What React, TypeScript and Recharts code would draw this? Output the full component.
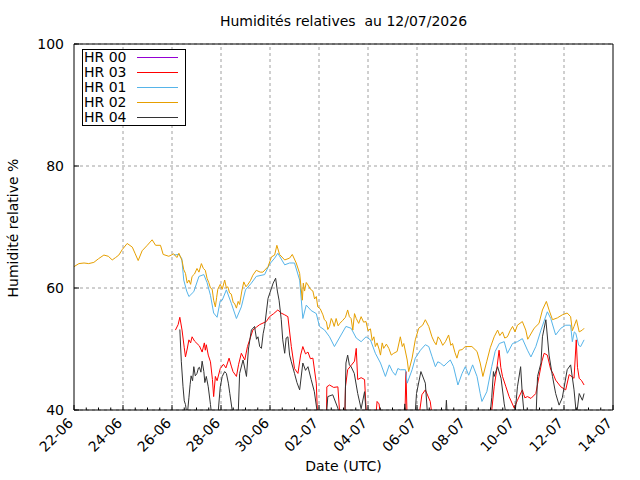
import { LineChart, Line, XAxis, YAxis, CartesianGrid, ReferenceLine, Legend } from "recharts";

const FONT = "'DejaVu Sans', sans-serif";

// x = days since 22-06 00:00 UTC
const xTickDays = [0, 2, 4, 6, 8, 10, 12, 14, 16, 18, 20, 22];
const xTickLabels = ["22-06", "24-06", "26-06", "28-06", "30-06", "02-07", "04-07", "06-07", "08-07", "10-07", "12-07", "14-07"];
const yTicks = [40, 60, 80, 100];

const hr00: [number, number][] = [];

const hr03: [number, number][] = [
  [4.14, 53.1], [4.25, 54.0], [4.32, 55.2], [4.41, 53.1], [4.5, 50.2], [4.55, 48.7], [4.62, 50.0], [4.69, 51.5], [4.76, 51.0], [4.82, 52.0],
  [4.92, 51.3], [5.02, 50.9], [5.12, 50.5], [5.23, 49.5], [5.32, 51.0], [5.36, 49.8], [5.4, 50.7], [5.48, 49.0], [5.57, 47.9], [5.65, 45.0], [5.7, 42.2],
  [5.77, 45.5], [5.84, 44.8], [5.97, 46.8], [6.1, 47.5], [6.2, 46.9], [6.33, 48.5], [6.42, 47.2], [6.49, 46.3], [6.63, 45.5], [6.72, 47.5], [6.83, 49.3], [6.97, 48.2],
  [7.08, 50.4], [7.17, 51.5], [7.3, 53.1], [7.45, 53.6], [7.58, 54.0], [7.85, 54.5], [7.98, 55.3], [8.15, 55.8], [8.32, 56.4], [8.45, 55.9], [8.6, 55.6], [8.73, 55.3],
  [8.87, 50.4], [9.0, 46.8], [9.14, 46.0], [9.25, 49.0], [9.34, 50.4], [9.45, 49.2], [9.55, 49.5], [9.65, 48.4], [9.75, 48.5], [9.89, 44.4], [9.95, 38],
  [10.3, 38], [10.32, 43.8], [10.43, 44.1], [10.6, 43.7], [10.77, 43.8], [10.87, 38], [11.05, 38], [11.08, 43.8], [11.17, 46.6],
  [11.31, 47.3], [11.45, 48.0], [11.52, 50.1], [11.58, 45.0], [11.72, 45.3], [11.86, 45.0], [11.95, 38], [12.3, 38], [12.37, 41.4],
  [12.45, 41.0], [12.55, 38], [13.5, 38], [13.55, 46.3], [13.6, 38], [14.05, 38], [14.2, 42.5], [14.34, 43.3],
  [14.54, 41.4], [14.65, 38], [17.0, 38], [17.15, 43.8], [17.25, 46.5], [17.35, 49.8], [17.42, 47.0], [17.49, 45.5], [17.63, 43.8],
  [17.76, 42.2], [17.97, 40.3], [18.1, 41.6], [18.3, 43.3], [18.4, 42.0], [18.51, 42.2], [18.65, 41.9], [18.85, 42.7], [18.98, 45.5],
  [19.1, 48.0], [19.19, 49.3], [19.32, 49.0], [19.46, 46.6], [19.55, 46.0], [19.66, 44.9], [19.87, 43.8], [20.07, 43.3], [20.21, 45.8], [20.41, 45.2],
  [20.5, 51.5], [20.55, 47.0], [20.62, 45.2], [20.72, 44.8], [20.82, 44.1],
];

const hr01: [number, number][] = [
  [4.07, 65.4], [4.28, 65.5], [4.4, 64.8], [4.48, 61.3], [4.6, 59.5], [4.69, 58.6], [4.89, 59.4], [5.1, 61.9],
  [5.3, 62.2], [5.43, 60.9], [5.57, 58.8], [5.7, 55.9], [5.84, 55.2], [5.97, 57.9], [6.05, 58.0], [6.22, 59.7],
  [6.42, 57.5], [6.63, 55.0], [6.83, 56.9], [7.0, 59.7], [7.24, 60.8], [7.44, 61.9], [7.78, 62.2], [7.98, 63.9],
  [8.19, 64.9], [8.32, 65.7], [8.6, 63.8], [8.8, 64.1], [9.0, 64.1], [9.21, 61.3], [9.34, 55.0], [9.48, 57.2],
  [9.68, 56.3], [9.89, 55.8], [10.02, 53.7], [10.23, 53.1], [10.43, 52.0], [10.63, 50.4], [10.9, 52.3], [11.1, 53.7],
  [11.31, 53.4], [11.52, 51.8], [11.72, 51.2], [11.92, 52.0], [12.1, 51.5], [12.3, 49.3], [12.51, 47.7], [12.71, 45.5],
  [12.87, 47.4], [13.0, 46.3], [13.12, 45.7], [13.22, 46.8], [13.32, 46.6], [13.53, 46.6], [13.6, 44.4], [13.8, 46.6], [13.93, 48.5], [14.14, 49.8],
  [14.34, 50.7], [14.48, 50.4], [14.61, 48.8], [14.75, 47.1], [14.85, 47.9], [14.95, 47.7], [15.1, 47.2], [15.22, 47.7], [15.36, 48.2], [15.49, 47.1],
  [15.67, 44.1], [15.84, 46.0], [15.97, 47.1], [16.11, 45.7], [16.27, 47.4], [16.45, 45.5], [16.58, 42.7], [16.65, 41.4],
  [16.85, 43.0], [17.05, 47.1], [17.19, 49.6], [17.36, 50.9], [17.56, 51.2], [17.69, 49.3], [17.9, 50.9], [18.1, 51.2],
  [18.3, 51.7], [18.51, 49.8], [18.65, 48.7], [18.85, 50.4], [19.06, 53.1], [19.32, 56.1], [19.46, 55.0], [19.66, 52.3],
  [19.87, 53.4], [20.07, 53.9], [20.27, 53.9], [20.34, 51.2], [20.42, 52.8], [20.48, 52.6], [20.6, 50.6], [20.68, 50.4], [20.82, 51.5],
];

const hr02: [number, number][] = [
  [0, 63.5], [0.2, 64.0], [0.41, 64.1], [0.6, 64.0], [0.81, 64.2], [1.0, 64.8], [1.22, 65.4], [1.4, 65.2],
  [1.56, 64.6], [1.7, 65.0], [1.83, 65.4], [1.97, 66.3], [2.17, 67.3], [2.38, 66.7], [2.5, 65.6], [2.62, 64.5],
  [2.78, 66.1], [2.99, 67.0], [3.19, 67.9], [3.33, 67.0], [3.53, 67.0], [3.64, 65.5], [3.87, 65.2], [4.07, 65.6],
  [4.2, 65.0], [4.28, 65.7], [4.41, 64.5], [4.48, 63.0], [4.55, 62.4], [4.62, 60.8], [4.69, 61.3], [4.76, 60.6], [4.82, 61.9], [4.92, 62.3], [5.02, 63.2],
  [5.1, 62.6], [5.2, 64.0], [5.28, 63.2], [5.36, 62.9], [5.43, 61.6], [5.5, 60.9], [5.57, 60.0], [5.64, 59.8], [5.7, 58.0], [5.77, 56.9], [5.82, 58.4], [5.87, 59.8], [5.97, 60.6],
  [6.05, 59.8], [6.15, 61.3], [6.22, 60.0], [6.28, 60.2], [6.35, 59.2], [6.42, 59.0], [6.5, 57.6], [6.55, 57.5], [6.63, 56.7], [6.7, 57.8], [6.76, 57.3], [6.85, 59.5], [6.93, 61.0],
  [7.02, 60.2], [7.1, 60.6], [7.2, 61.2], [7.3, 62.1], [7.44, 62.9], [7.6, 62.6], [7.71, 62.6], [7.92, 63.5], [8.06, 65.1], [8.19, 65.4], [8.28, 67.0], [8.39, 65.5],
  [8.6, 64.6], [8.8, 64.9], [8.91, 65.5], [9.07, 64.1], [9.21, 62.4], [9.32, 58.0], [9.36, 60.8], [9.41, 59.5], [9.48, 60.9], [9.55, 60.5], [9.65, 59.8], [9.75, 59.5], [9.82, 58.2], [9.89, 58.6],
  [9.95, 56.9], [10.05, 56.6], [10.16, 55.6], [10.22, 54.8], [10.3, 54.5], [10.36, 53.2], [10.43, 53.7], [10.5, 55.0], [10.55, 54.6], [10.62, 53.7], [10.7, 55.0], [10.78, 53.8], [10.85, 54.2], [10.97, 54.7],
  [11.08, 55.2], [11.17, 56.4], [11.24, 55.3], [11.31, 55.0], [11.38, 53.1], [11.45, 55.8], [11.52, 55.0], [11.62, 54.2], [11.72, 55.3], [11.82, 54.4], [11.92, 54.5], [12.0, 53.0], [12.1, 53.3], [12.17, 51.4], [12.24, 52.0],
  [12.3, 50.4], [12.37, 51.0], [12.45, 50.0], [12.51, 49.0], [12.58, 51.0], [12.64, 50.1], [12.75, 50.8], [12.85, 50.1], [12.95, 49.0], [13.05, 49.3], [13.19, 49.6], [13.32, 52.0], [13.4, 50.4], [13.46, 50.9],
  [13.6, 48.2], [13.66, 46.3], [13.8, 48.5], [13.93, 51.5], [14.07, 53.4], [14.23, 53.9], [14.34, 54.8], [14.48, 53.7],
  [14.61, 52.0], [14.7, 51.2], [14.78, 50.7], [14.86, 52.0], [14.95, 51.5], [15.05, 50.6], [15.16, 51.2], [15.29, 52.3], [15.38, 50.6], [15.45, 50.9], [15.55, 49.4], [15.63, 48.5], [15.72, 49.8], [15.84, 49.9],
  [15.97, 50.4], [16.24, 50.4], [16.45, 49.6], [16.58, 47.7], [16.69, 45.5], [16.85, 48.0], [16.99, 50.2], [17.15, 52.0],
  [17.29, 53.1], [17.38, 52.2], [17.49, 52.8], [17.58, 51.8], [17.69, 52.0], [17.8, 53.0], [17.9, 53.7], [18.0, 52.8], [18.1, 53.9], [18.3, 54.5], [18.44, 53.1], [18.52, 51.6], [18.58, 52.0],
  [18.78, 53.4], [18.98, 54.2], [19.12, 56.4], [19.28, 57.8], [19.39, 56.4], [19.53, 54.8], [19.73, 55.1], [19.93, 55.6],
  [20.13, 55.9], [20.27, 55.3], [20.34, 53.0], [20.41, 53.7], [20.51, 54.8], [20.62, 52.8], [20.75, 53.1], [20.82, 53.4],
];

const hr04: [number, number][] = [
  [4.32, 53.2], [4.38, 48.0], [4.45, 43.8], [4.5, 41.5], [4.55, 40.9], [4.62, 39], [4.69, 42.0], [4.74, 44.2], [4.78, 45.6], [4.84, 44.8], [4.89, 47.1],
  [4.95, 45.6], [5.02, 46.0], [5.08, 46.9], [5.12, 47.0], [5.18, 46.2], [5.23, 48.0], [5.3, 46.3], [5.34, 44.5], [5.4, 45.5], [5.48, 43.8], [5.57, 40.9], [5.65, 38], [5.85, 38],
  [5.97, 43.8], [6.05, 45.5], [6.15, 46.3], [6.22, 46.0], [6.3, 44.4], [6.36, 42.7], [6.49, 39], [6.7, 39], [6.76, 46.0],
  [6.9, 48.2], [7.04, 45.5], [7.12, 50.0], [7.24, 53.1], [7.37, 53.7], [7.45, 51.6], [7.51, 52.0], [7.58, 50.4], [7.65, 50.1], [7.72, 52.5], [7.78, 53.7], [7.92, 58.3],
  [8.13, 60.8], [8.23, 61.6], [8.3, 59.5], [8.37, 58.0], [8.46, 54.8], [8.52, 51.5], [8.6, 49.3], [8.66, 51.8], [8.73, 52.0], [8.8, 49.0], [8.87, 47.9], [9.0, 46.0],
  [9.1, 44.5], [9.21, 43.3], [9.34, 47.7], [9.45, 46.5], [9.55, 47.1], [9.68, 45.0], [9.81, 43.0], [9.95, 39], [10.3, 39], [10.36, 42.2],
  [10.56, 42.5], [10.77, 40.3], [10.85, 38], [11.05, 38], [11.1, 47.7], [11.17, 49.0], [11.24, 47.4], [11.31, 47.1], [11.44, 46.0],
  [11.58, 42.7], [11.72, 40.2], [11.86, 43.0], [11.95, 38], [13.45, 38], [13.5, 41.0], [13.55, 38], [13.9, 38],
  [13.98, 42.7], [14.16, 46.3], [14.34, 44.4], [14.45, 38], [15.15, 38], [15.2, 41.6], [15.25, 38], [16.95, 38],
  [17.05, 42.0], [17.12, 46.3], [17.15, 45.5], [17.29, 47.1], [17.43, 45.2], [17.56, 41.0], [17.69, 38], [17.97, 38],
  [18.1, 43.8], [18.23, 47.1], [18.3, 42.5], [18.4, 38], [18.85, 38], [18.92, 45.5], [19.06, 47.7], [19.12, 52.0],
  [19.26, 54.8], [19.39, 49.0], [19.53, 45.5], [19.66, 42.7], [19.8, 40.8], [19.93, 42.0], [20.13, 46.6], [20.27, 47.4],
  [20.41, 43.3], [20.51, 39], [20.62, 42.7], [20.75, 41.6], [20.82, 42.7],
];

const series = [
  { name: "HR 00", color: "#9400d3", points: hr00 },
  { name: "HR 03", color: "#ff0000", points: hr03 },
  { name: "HR 01", color: "#56b4e9", points: hr01 },
  { name: "HR 02", color: "#e69f00", points: hr02 },
  { name: "HR 04", color: "#333333", points: hr04 },
];
const legendOrder = series.map((s) => s.name);

// major every 2 days, minor every 12h
const xTicks = Array.from({ length: 45 }, (_, i) => i / 2);

const toRows = (pts: [number, number][]) => pts.map(([t, v]) => ({ t, v }));

function tickLen(v: number) {
  return xTickDays.includes(v) ? 5 : 2.5;
}

function BottomTick({ x, y, payload }: any) {
  const i = xTickDays.indexOf(payload.value);
  const ly = y + 14;
  return (
    <g>
      <line x1={x} x2={x} y1={y} y2={y - tickLen(payload.value)} stroke="#000" />
      {i >= 0 && (
        <text x={x} y={ly} textAnchor="end" transform={`rotate(-45 ${x} ${ly})`} fontFamily={FONT} fontSize={14} fill="#000">
          {xTickLabels[i]}
        </text>
      )}
    </g>
  );
}

function TopTick({ x, y, payload }: any) {
  return <line x1={x} x2={x} y1={y} y2={y + tickLen(payload.value)} stroke="#000" />;
}

function LeftTick({ x, y, payload }: any) {
  return (
    <g>
      <line x1={x} x2={x + 5} y1={y} y2={y} stroke="#000" />
      <text x={x - 10} y={y} dy="0.36em" textAnchor="end" fontFamily={FONT} fontSize={14} fill="#000">
        {payload.value}
      </text>
    </g>
  );
}

function RightTick({ x, y }: any) {
  return <line x1={x} x2={x - 5} y1={y} y2={y} stroke="#000" />;
}

function LegendBox({ payload }: any) {
  const items = [...(payload || [])].sort((a: any, b: any) => legendOrder.indexOf(a.value) - legendOrder.indexOf(b.value));
  return (
    <div style={{ border: "1px solid #000", background: "#fff", width: 102, fontFamily: FONT, fontSize: 14, color: "#000" }}>
      {items.map((p: any) => (
        <div key={p.value} style={{ display: "flex", alignItems: "center", height: 15, lineHeight: "15px" }}>
          <span style={{ width: 53, paddingLeft: 1 }}>{p.value}</span>
          <span style={{ width: 41, borderTop: `1px solid ${p.color}` }} />
        </div>
      ))}
    </div>
  );
}

export default function App() {
  return (
    <div style={{ position: "absolute", left: 0, top: 0, width: 640, height: 480, background: "#fff" }}>
      <div style={{ position: "absolute", left: 74, top: 14, width: 539, textAlign: "center", fontFamily: FONT, fontSize: 14, lineHeight: "14px", color: "#000", whiteSpace: "pre" }}>
        {"Humidités relatives  au 12/07/2026"}
      </div>
      <LineChart width={640} height={480} margin={{ top: 34, right: 17, bottom: 10, left: 24 }}>
        <CartesianGrid vertical={false} stroke="#a0a0a0" strokeDasharray="3 3" />
        {xTickDays.slice(1, -1).map((d) => (
          <ReferenceLine key={d} x={d} stroke="#a0a0a0" strokeDasharray="3 3" />
        ))}
        <XAxis
          dataKey="t"
          type="number"
          domain={[0, 22]}
          allowDataOverflow
          ticks={xTicks}
          interval={0}
          height={60}
          tickSize={0}
          tickMargin={0}
          tickLine={false}
          axisLine={{ stroke: "#000" }}
          tick={(p: any) => <BottomTick {...p} />}
        />
        <XAxis
          xAxisId="top"
          orientation="top"
          type="number"
          domain={[0, 22]}
          ticks={xTicks}
          interval={0}
          height={10}
          tickSize={0}
          tickMargin={0}
          tickLine={false}
          axisLine={{ stroke: "#000" }}
          tick={(p: any) => <TopTick {...p} />}
        />
        <YAxis
          type="number"
          domain={[40, 100]}
          allowDataOverflow
          ticks={yTicks}
          interval={0}
          width={50}
          tickSize={0}
          tickMargin={0}
          tickLine={false}
          axisLine={{ stroke: "#000" }}
          tick={(p: any) => <LeftTick {...p} />}
        />
        <YAxis
          yAxisId="right"
          orientation="right"
          type="number"
          domain={[40, 100]}
          ticks={yTicks}
          interval={0}
          width={10}
          tickSize={0}
          tickMargin={0}
          tickLine={false}
          axisLine={{ stroke: "#000" }}
          tick={(p: any) => <RightTick {...p} />}
        />
        {series.map((s) => (
          <Line
            key={s.name}
            name={s.name}
            data={toRows(s.points)}
            dataKey="v"
            type="linear"
            stroke={s.color}
            strokeWidth={1}
            dot={false}
            activeDot={false}
            isAnimationActive={false}
          />
        ))}
        <Legend
          layout="vertical"
          align="center"
          verticalAlign="middle"
          content={(p: any) => <LegendBox {...p} />}
          wrapperStyle={{ left: 82, top: 49, width: "auto", height: "auto" }}
        />
      </LineChart>
      <div style={{ position: "absolute", left: 74, top: 459, width: 539, textAlign: "center", fontFamily: FONT, fontSize: 14, lineHeight: "14px", color: "#000" }}>
        Date (UTC)
      </div>
      <div
        style={{
          position: "absolute",
          left: 12.5 - 100,
          top: 228 - 7,
          width: 200,
          textAlign: "center",
          fontFamily: FONT,
          fontSize: 14,
          lineHeight: "14px",
          color: "#000",
          transform: "rotate(-90deg)",
        }}
      >
        Humidité relative %
      </div>
    </div>
  );
}
